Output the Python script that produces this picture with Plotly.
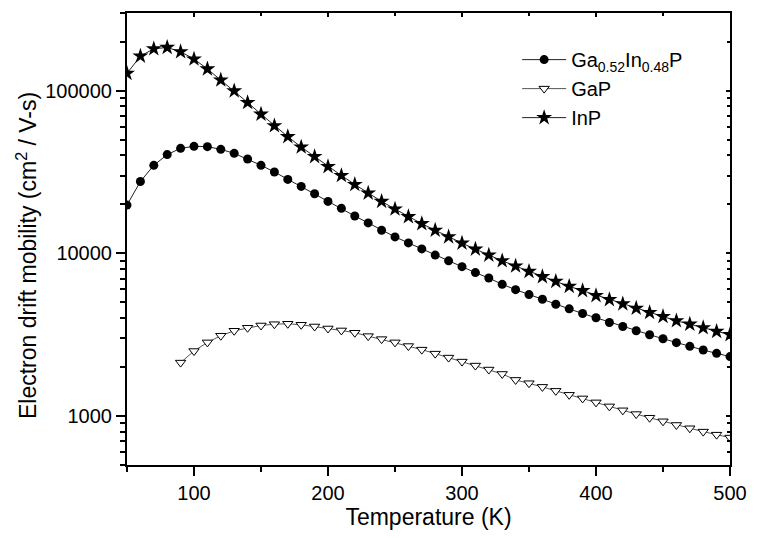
import math
import plotly.graph_objects as go

# Temperature grid (K)
temp_all = list(range(50, 501, 10))
temp_gap = list(range(90, 501, 10))

# Electron drift mobility (cm^2 / V-s)
mu_gainp = [19800, 27640, 34750, 40440, 44200, 45450, 45270, 43560, 41180, 38020,
            34750, 31620, 28460, 25770, 23220, 20850, 18900, 16950, 15380, 13860,
            12620, 11590, 10650, 9750, 8990, 8280, 7610, 7050, 6447, 5980,
            5574, 5217, 4863, 4557, 4266, 4015, 3757, 3552, 3344, 3161,
            2987, 2823, 2680, 2544, 2428, 2318]

mu_gap = [2130, 2508, 2835, 3116, 3343, 3487, 3602, 3668, 3690, 3638,
          3551, 3452, 3357, 3250, 3098, 2970, 2835, 2692, 2559, 2418,
          2286, 2161, 2042, 1930, 1814, 1667, 1591, 1511, 1428, 1350,
          1283, 1213, 1146, 1084, 1028, 976, 928, 881, 841, 802,
          768, 737]

mu_inp = [127600, 163000, 180700, 184200, 173400, 156300, 135900, 116200, 99600, 84500,
          71660, 60790, 52140, 44990, 39310, 34120, 30070, 26490, 23440, 20850,
          18710, 16790, 15210, 13860, 12620, 11550, 10610, 9750, 8995, 8350,
          7740, 7183, 6723, 6265, 5896, 5496, 5195, 4891, 4597, 4326,
          4089, 3848, 3668, 3487, 3311, 3161]

x_range = [50, 500]
y_range = [500, 300000]
x_major = [100, 200, 300, 400, 500]
x_minor = [50, 150, 250, 350, 450]
y_major = [1000, 10000, 100000]
y_major_text = ["1000", "10000", "100000"]
y_minor = [m * d for d in (100, 1000, 10000, 100000) for m in range(2, 10)]

FONT = "Arial, Liberation Sans, sans-serif"
LINE = dict(color="#222222", width=1)

fig = go.Figure()

fig.add_trace(go.Scatter(
    x=temp_all, y=mu_gainp, mode="lines+markers",
    name="Ga<sub>0.52</sub>In<sub>0.48</sub>P",
    line=LINE,
    marker=dict(symbol="circle", size=9, color="black"),
))
fig.add_trace(go.Scatter(
    x=temp_gap, y=mu_gap, mode="lines+markers",
    name="GaP",
    line=dict(color="#555555", width=1),
    marker=dict(symbol="triangle-down", size=9, color="white",
                line=dict(color="black", width=1)),
))
fig.add_trace(go.Scatter(
    x=temp_all, y=mu_inp, mode="lines+markers",
    name="InP",
    line=LINE,
    marker=dict(symbol="star", size=12, color="black", line=dict(width=0)),
))
# helper trace that anchors the mirrored top/right axes
fig.add_trace(go.Scatter(
    x=temp_all, y=mu_inp, mode="none", xaxis="x2", yaxis="y2",
    showlegend=False, hoverinfo="skip",
))

log_range = [math.log10(y_range[0]), math.log10(y_range[1])]

fig.update_layout(
    width=758, height=538,
    margin=dict(l=127, r=19, t=11, b=73),
    paper_bgcolor="white", plot_bgcolor="white",
    font=dict(family=FONT, size=20, color="black"),
    showlegend=True,
    legend=dict(
        x=0.647, y=0.94, xanchor="left", yanchor="top",
        bgcolor="rgba(0,0,0,0)", borderwidth=0,
        font=dict(family=FONT, size=20, color="black"),
        tracegroupgap=0, itemwidth=44,
    ),
    xaxis=dict(
        range=x_range, showgrid=False, zeroline=False,
        showline=True, linecolor="black", linewidth=2, mirror=True,
        tickmode="array", tickvals=x_major,
        ticks="outside", ticklen=9, tickwidth=1.5, tickcolor="black",
        minor=dict(tickmode="array", tickvals=x_minor, ticks="outside",
                   ticklen=5, tickwidth=1.5, tickcolor="black", showgrid=False),
        tickfont=dict(size=20),
        title=dict(text="Temperature (K)", font=dict(size=23), standoff=6),
    ),
    yaxis=dict(
        type="log", range=log_range, showgrid=False, zeroline=False,
        showline=True, linecolor="black", linewidth=2, mirror=True,
        tickmode="array", tickvals=y_major, ticktext=y_major_text,
        ticks="outside", ticklen=9, tickwidth=1.5, tickcolor="black",
        minor=dict(tickmode="array", tickvals=y_minor, ticks="outside",
                   ticklen=5, tickwidth=1.5, tickcolor="black", showgrid=False),
        tickfont=dict(size=20),
    ),
    xaxis2=dict(
        overlaying="x", anchor="y", side="top", range=x_range,
        showgrid=False, zeroline=False, showline=False,
        tickmode="array", tickvals=x_major, showticklabels=False,
        ticks="inside", ticklen=4, tickwidth=1.5, tickcolor="black",
        minor=dict(tickmode="array", tickvals=x_minor, ticks="inside",
                   ticklen=3, tickwidth=1.5, tickcolor="black", showgrid=False),
    ),
    yaxis2=dict(
        overlaying="y", anchor="x", side="right", type="log", range=log_range,
        showgrid=False, zeroline=False, showline=False,
        tickmode="array", tickvals=y_major, showticklabels=False,
        ticks="inside", ticklen=4, tickwidth=1.5, tickcolor="black",
        minor=dict(tickmode="array", tickvals=y_minor, ticks="inside",
                   ticklen=3, tickwidth=1.5, tickcolor="black", showgrid=False),
    ),
    annotations=[dict(
        text="Electron drift mobility (cm<sup>2</sup> / V-s)",
        textangle=-90, xref="paper", yref="paper",
        x=-0.167, y=0.463, xanchor="center", yanchor="middle",
        showarrow=False, font=dict(family=FONT, size=23, color="black"),
    )],
)

fig.write_html("out.html")
